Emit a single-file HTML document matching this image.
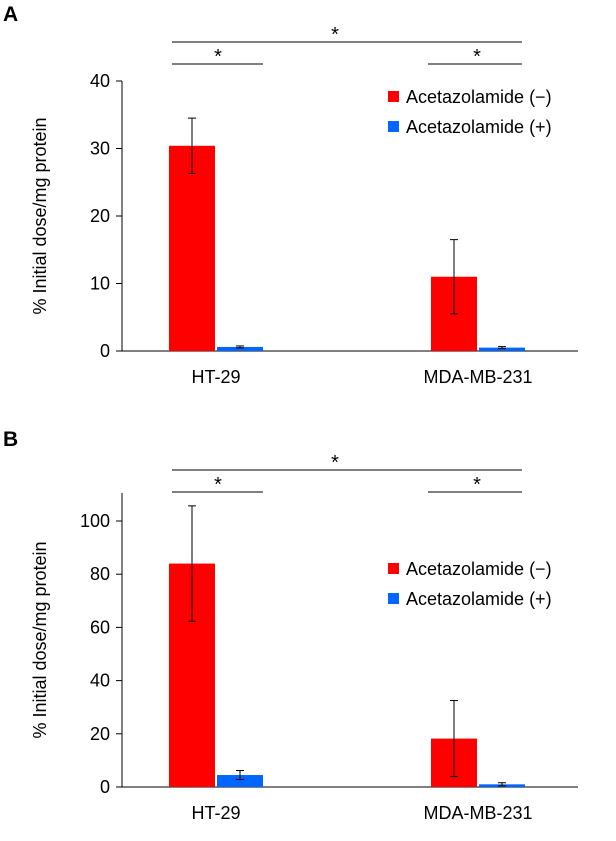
<!DOCTYPE html>
<html><head><meta charset="utf-8"><style>
body{margin:0;background:#fff;}
svg text{font-family:"Liberation Sans",Arial,sans-serif;fill:#000;}
</style></head><body>
<svg width="616" height="836" id="fig"></svg>
<script>
const categories=["HT-29","MDA-MB-231"];
const seriesNames=["Acetazolamide (−)","Acetazolamide (+)"];
const aMinus=[30.4,11.0], aMinusErr=[4.1,5.5];
const aPlus=[0.6,0.5], aPlusErr=[0.15,0.15];
const aTicks=[0,10,20,30,40];
const bMinus=[84,18.2], bMinusErr=[21.7,14.3];
const bPlus=[4.5,1.0], bPlusErr=[1.7,0.6];
const bTicks=[0,20,40,60,80,100];
const colors=["#ff0000","#0066ff"];
const NS="http://www.w3.org/2000/svg";
const svg=document.getElementById('fig');
function mk(tag,attrs,parent,txt){const e=document.createElementNS(NS,tag);for(const k in attrs)e.setAttribute(k,attrs[k]);if(txt!==undefined)e.textContent=txt;(parent||svg).appendChild(e);return e;}
function panel(label,top0,yZero,pxPerUnit,ymax,ticks,minus,minusErr,plus,plusErr,axTop,brTop,brLow,legY){
  const g=mk('g',{});
  
  
  const y=v=>yZero-v*pxPerUnit;
  const t=mk('text',{x:3,y:top0,'font-size':21,'font-weight':'bold'},g,label);
  
  const ax=mk('line',{x1:122,y1:axTop,x2:122,y2:yZero,stroke:'#000','stroke-width':1},g);
  
  const xa=mk('line',{x1:122,y1:yZero,x2:578,y2:yZero,stroke:'#000','stroke-width':1},g);
  
  ticks.forEach(v=>{
    mk('line',{x1:116,x2:122,y1:y(v),y2:y(v),stroke:'#000'},g);
    const tl=mk('text',{x:110,y:y(v)+6,'font-size':18,'text-anchor':'end'},g,v);
    
  });
  const yt=mk('text',{x:0,y:0,'font-size':18,'text-anchor':'middle',transform:`translate(46,${(axTop+yZero)/2}) rotate(-90)`},g,'% Initial dose/mg protein');
  
  const cx=[216,478];
  categories.forEach((c,i)=>{
    const xl=mk('text',{x:cx[i],y:yZero+32,'font-size':18,'text-anchor':'middle'},g,c);
    
    [[minus,minusErr,0],[plus,plusErr,1]].forEach(([vals,errs,s])=>{
      const x0=cx[i]-47+s*48;
      const b=mk('rect',{x:x0,y:y(vals[i]),width:46,height:yZero-y(vals[i]),fill:colors[s]},g);
      
      
      const m=x0+23,hi=y(vals[i]+errs[i]),lo=y(vals[i]-errs[i]);
      mk('line',{x1:m,x2:m,y1:hi,y2:lo,stroke:'#000'},g);
      mk('line',{x1:m-4,x2:m+4,y1:hi,y2:hi,stroke:'#000'},g);
      mk('line',{x1:m-4,x2:m+4,y1:lo,y2:lo,stroke:'#000'},g);
    });
  });
  [[172,522,brTop,335],[172,263,brLow,218],[428,522,brLow,477]].forEach(([a,b2,yy,sx])=>{
    mk('line',{x1:a,x2:b2,y1:yy,y2:yy,stroke:'#000'},g);
    const st=mk('text',{x:sx,y:yy-1,'font-size':20,'text-anchor':'middle'},g,'*');
    
  });
  seriesNames.forEach((n,s)=>{
    const ly=legY+s*30;
    const r=mk('rect',{x:388,y:ly-6,width:11,height:11,fill:colors[s]},g);
    
    const lt=mk('text',{x:406,y:ly+6,'font-size':18},g,n);
    
  });
}
panel('A',21,351,6.75,40,aTicks,aMinus,aMinusErr,aPlus,aPlusErr,81,42,64,97);
panel('B',446,787,2.66,110,bTicks,bMinus,bMinusErr,bPlus,bPlusErr,493,470,492,569);
</script>
</body></html>
